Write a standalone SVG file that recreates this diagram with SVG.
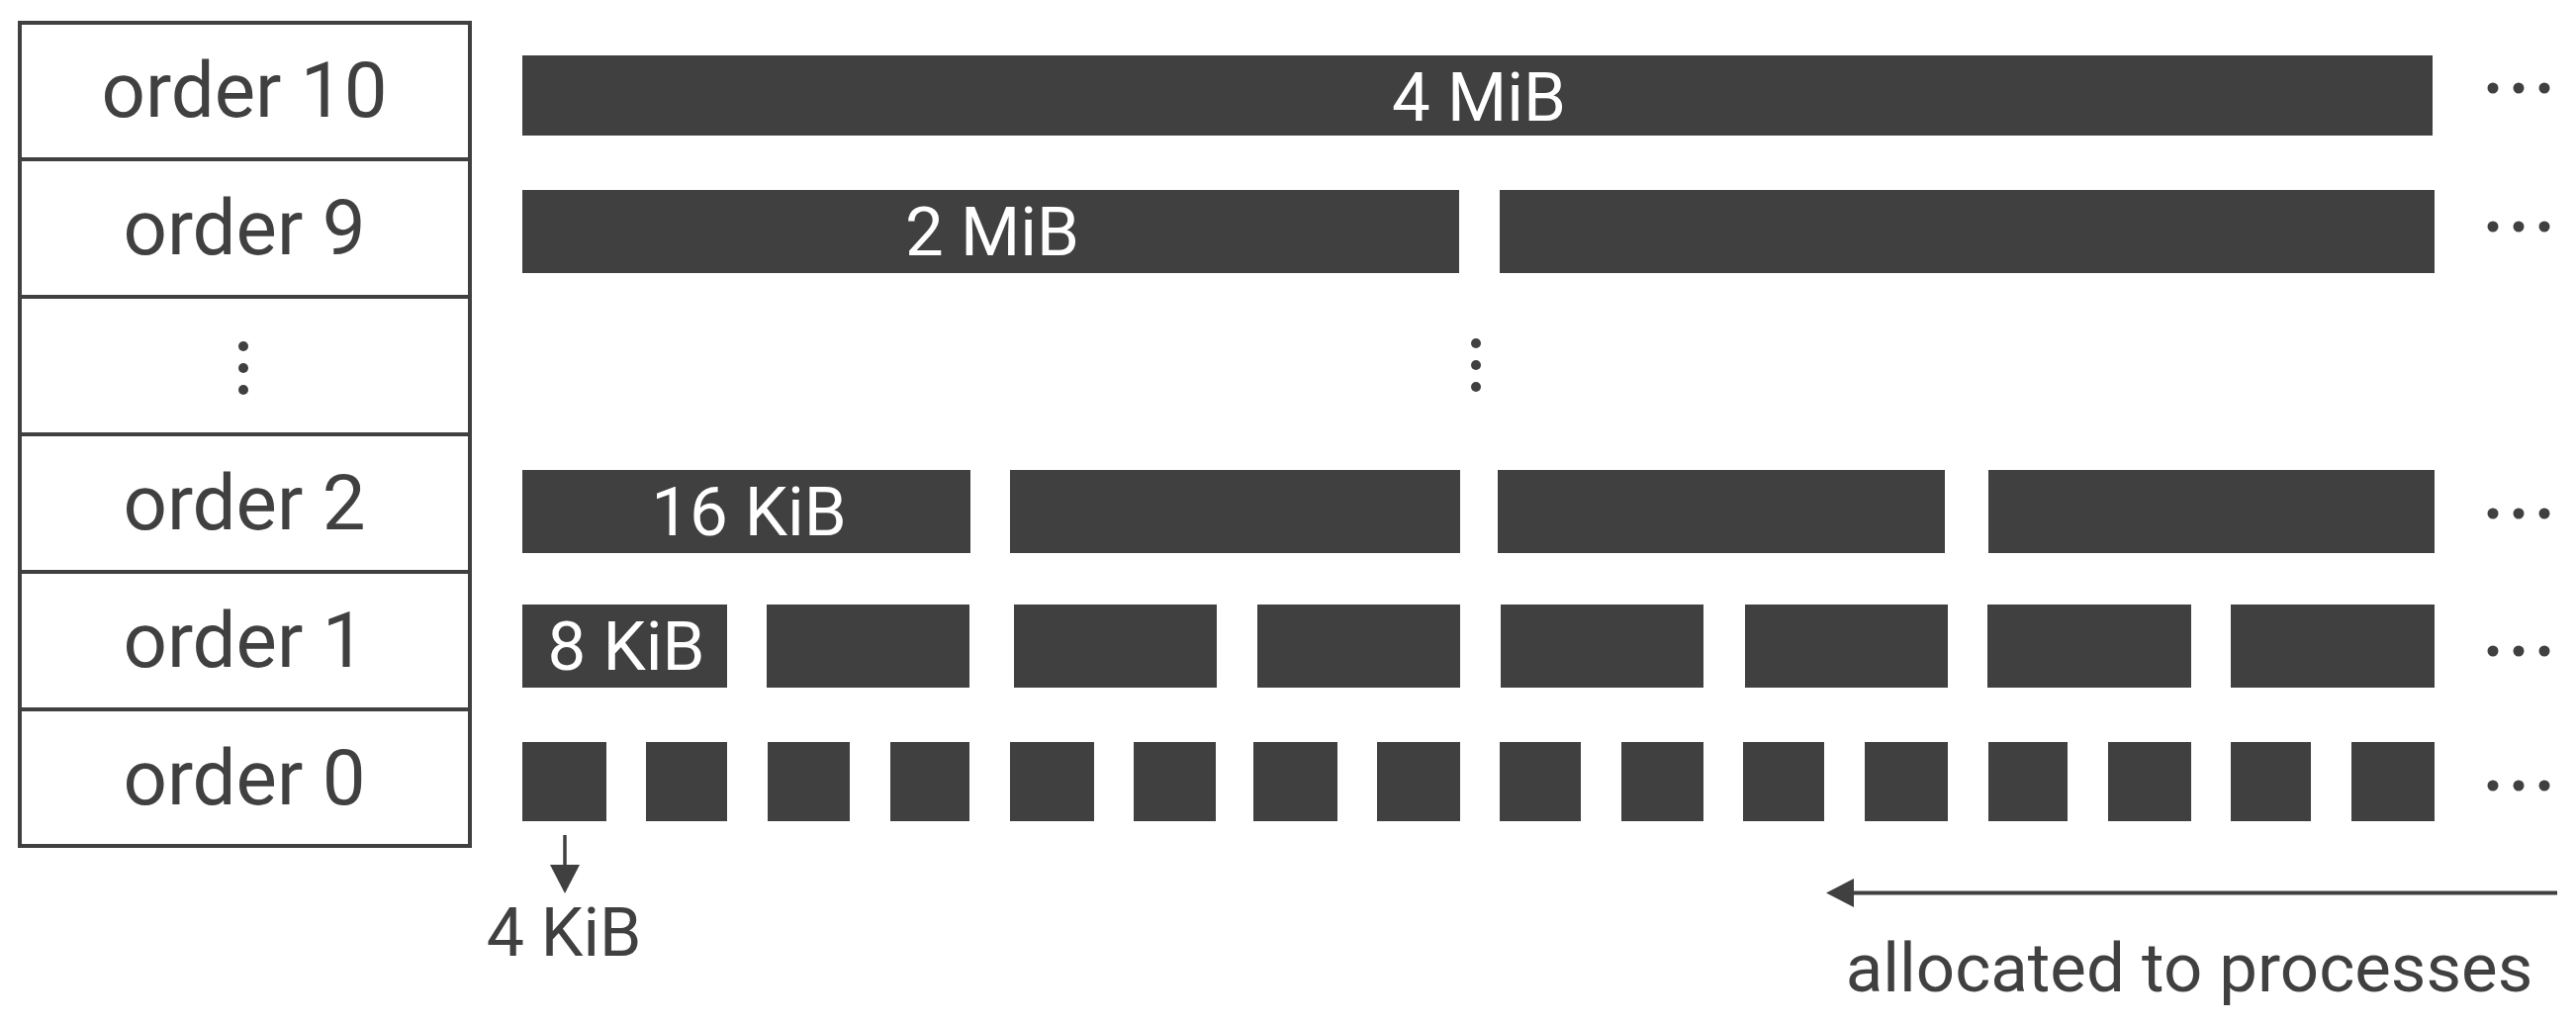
<svg xmlns="http://www.w3.org/2000/svg" width="2604" height="1036" viewBox="0 0 2604 1036">
<style>
.bg{fill:#ffffff}
.cell{fill:#ffffff;stroke:#404040;stroke-width:4}
.blk{fill:#404040}
.lbl{font-family:Roboto,"Liberation Sans",sans-serif;font-weight:400;fill:#404040;text-anchor:middle}
.ord{font-size:78px}
.wl{font-family:Roboto,"Liberation Sans",sans-serif;font-weight:400;fill:#ffffff;text-anchor:middle;font-size:69px}
.dot{fill:#404040}
.ln{stroke:#404040;fill:none}
</style>
<defs>
<g id="hdots"><circle cx="0" cy="0" r="5.5"/><circle cx="26" cy="0" r="5.5"/><circle cx="52" cy="0" r="5.5"/></g>
<g id="vdots"><circle cx="0" cy="0" r="5"/><circle cx="0" cy="22" r="5"/><circle cx="0" cy="44" r="5"/></g>
</defs>
<rect class="bg" x="0" y="0" width="2604" height="1036"/>

<g id="table">
<g id="row-order10"><rect class="cell" x="20" y="23" width="455" height="138"/><text class="lbl ord" x="247" y="118">order 10</text></g>
<g id="row-order9"><rect class="cell" x="20" y="161" width="455" height="139"/><text class="lbl ord" x="247" y="257">order 9</text></g>
<g id="row-ellipsis"><rect class="cell" x="20" y="300" width="455" height="139"/><use href="#vdots" class="dot" x="246" y="350"/></g>
<g id="row-order2"><rect class="cell" x="20" y="439" width="455" height="139"/><text class="lbl ord" x="247" y="535">order 2</text></g>
<g id="row-order1"><rect class="cell" x="20" y="578" width="455" height="139"/><text class="lbl ord" x="247" y="674">order 1</text></g>
<g id="row-order0"><rect class="cell" x="20" y="717" width="455" height="138"/><text class="lbl ord" x="247" y="813">order 0</text></g>
</g>

<g id="blocks-order10">
<rect class="blk" x="528" y="56" width="1931" height="81"/>
<text class="wl" x="1495" y="122">4 MiB</text>
<use href="#hdots" class="dot" x="2520" y="89"/>
</g>

<g id="blocks-order9">
<rect class="blk" x="528" y="192" width="947" height="84"/>
<rect class="blk" x="1516" y="192" width="945" height="84"/>
<text class="wl" x="1003" y="258">2 MiB</text>
<use href="#hdots" class="dot" x="2520" y="229"/>
</g>

<g id="blocks-middle-ellipsis">
<use href="#vdots" class="dot" x="1492" y="347"/>
</g>

<g id="blocks-order2">
<rect class="blk" x="528" y="475" width="453" height="84"/>
<rect class="blk" x="1021" y="475" width="455" height="84"/>
<rect class="blk" x="1514" y="475" width="452" height="84"/>
<rect class="blk" x="2010" y="475" width="451" height="84"/>
<text class="wl" x="757" y="541">16 KiB</text>
<use href="#hdots" class="dot" x="2520" y="519"/>
</g>

<g id="blocks-order1">
<rect class="blk" x="528" y="611" width="207" height="84"/>
<rect class="blk" x="775" y="611" width="205" height="84"/>
<rect class="blk" x="1025" y="611" width="205" height="84"/>
<rect class="blk" x="1271" y="611" width="205" height="84"/>
<rect class="blk" x="1517" y="611" width="205" height="84"/>
<rect class="blk" x="1764" y="611" width="205" height="84"/>
<rect class="blk" x="2009" y="611" width="206" height="84"/>
<rect class="blk" x="2255" y="611" width="206" height="84"/>
<text class="wl" x="633" y="677">8 KiB</text>
<use href="#hdots" class="dot" x="2520" y="658"/>
</g>

<g id="blocks-order0">
<rect class="blk" x="528" y="750" width="85" height="80"/>
<rect class="blk" x="653" y="750" width="82" height="80"/>
<rect class="blk" x="776" y="750" width="83" height="80"/>
<rect class="blk" x="900" y="750" width="80" height="80"/>
<rect class="blk" x="1021" y="750" width="85" height="80"/>
<rect class="blk" x="1146" y="750" width="83" height="80"/>
<rect class="blk" x="1267" y="750" width="85" height="80"/>
<rect class="blk" x="1392" y="750" width="84" height="80"/>
<rect class="blk" x="1516" y="750" width="82" height="80"/>
<rect class="blk" x="1639" y="750" width="83" height="80"/>
<rect class="blk" x="1762" y="750" width="82" height="80"/>
<rect class="blk" x="1885" y="750" width="84" height="80"/>
<rect class="blk" x="2010" y="750" width="80" height="80"/>
<rect class="blk" x="2131" y="750" width="84" height="80"/>
<rect class="blk" x="2255" y="750" width="81" height="80"/>
<rect class="blk" x="2377" y="750" width="84" height="80"/>
<use href="#hdots" class="dot" x="2520" y="794"/>
</g>

<g id="connectors">
<line class="ln" x1="571" y1="844" x2="571" y2="876" stroke-width="3.5"/>
<polygon class="blk" points="556,874 586,874 571,903"/>
<line class="ln" x1="1872" y1="902.5" x2="2585" y2="902.5" stroke-width="4"/>
<polygon class="blk" points="1846,902.5 1874,888 1874,917"/>
</g>

<g id="labels">
<text class="lbl" x="570" y="966" font-size="68">4 KiB</text>
<text class="lbl" x="2213" y="1002" font-size="69">allocated to processes</text>
</g>
</svg>
